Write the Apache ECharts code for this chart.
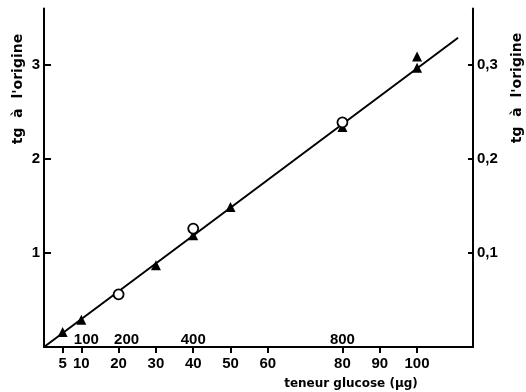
<!DOCTYPE html>
<html><head><meta charset="utf-8">
<script src="https://cdn.jsdelivr.net/npm/echarts@6/dist/echarts.min.js"></script>
<style>html,body{margin:0;padding:0;background:#fff}#c{width:526px;height:392px}</style>
</head><body><div id="c"></div>
<script>
// Data
const xTickValues = [5, 10, 20, 30, 40, 50, 60, 80, 90, 100];
const upperTickValues = [10, 20, 40, 80];
const upperTickLabels = ['100', '200', '400', '800'];
const triX = [5, 10, 30, 40, 50, 80, 100, 100];
const triY = [0.16, 0.29, 0.87, 1.19, 1.49, 2.34, 2.97, 3.09];
const circX = [20, 40, 80];
const circY = [0.56, 1.26, 2.39];
const fitX = [0, 111];
const fitY = [0, 3.29];
const leftTicks = [1, 2, 3];
const rightTicks = [0.1, 0.2, 0.3];
const yTitle = "tg  à  l'origine";
const xTitle = 'teneur glucose (µg)';

const upperShift = [5, 8, 0, 0];
const FONT = 'Liberation Sans';
const zip = (a, b) => a.map((v, i) => [v, b[i]]);

const chart = echarts.init(document.getElementById('c'));
chart.setOption({
  animation: false,
  backgroundColor: '#fff',
  grid: { left: 44, right: 53, top: 8.6, bottom: 45, containLabel: false },
  xAxis: {
    type: 'value', min: 0, max: 115,
    axisLine: { lineStyle: { color: '#000', width: 2 } },
    axisTick: { show: true, customValues: xTickValues, length: 6, inside: false, lineStyle: { color: '#000', width: 2 } },
    axisLabel: { customValues: xTickValues, color: '#000', fontFamily: FONT, fontSize: 15, fontWeight: 'bold', margin: 9 },
    splitLine: { show: false }
  },
  yAxis: [{
    type: 'value', min: 0, max: 3.6, position: 'left',
    axisLine: { show: true, lineStyle: { color: '#000', width: 2 } },
    axisTick: { show: true, customValues: leftTicks, inside: true, length: 7, lineStyle: { color: '#000', width: 2 } },
    axisLabel: { customValues: leftTicks, color: '#000', fontFamily: FONT, fontSize: 15, fontWeight: 'bold', margin: 4 },
    splitLine: { show: false }
  }, {
    type: 'value', min: 0, max: 0.36, position: 'right',
    axisLine: { show: true, lineStyle: { color: '#000', width: 2 } },
    axisTick: { show: true, customValues: rightTicks, inside: true, length: 5, lineStyle: { color: '#000', width: 2 } },
    axisLabel: { customValues: rightTicks, color: '#000', fontFamily: FONT, fontSize: 15, fontWeight: 'bold', margin: 4,
      formatter: v => v.toFixed(1).replace('.', ',') },
    splitLine: { show: false }
  }],
  series: [{
    type: 'line', data: zip(fitX, fitY), symbol: 'none',
    lineStyle: { color: '#000', width: 2 }, z: 2
  }, {
    type: 'scatter', data: zip(triX, triY), symbol: 'triangle', symbolSize: 10,
    itemStyle: { color: '#000', opacity: 1 }, z: 3
  }, {
    type: 'scatter', data: zip(circX, circY), symbol: 'circle', symbolSize: 10,
    itemStyle: { color: '#fff', borderColor: '#000', borderWidth: 1.8, opacity: 1 }, z: 3
  }, {
    type: 'scatter', symbolSize: 0, silent: true, z: 4,
    itemStyle: { opacity: 1 },
    data: upperTickValues.map((v, i) => ({
      value: [v, 0],
      label: { show: true, position: 'top', formatter: upperTickLabels[i], offset: [upperShift[i], 5],
        color: '#000', fontFamily: FONT, fontSize: 15, fontWeight: 'bold' }
    }))
  }],
  graphic: [{
    type: 'text', x: 18, y: 89, rotation: Math.PI / 2,
    style: { text: yTitle, fill: '#000', font: 'bold 14px "DejaVu Sans"', align: 'center', verticalAlign: 'middle' }
  }, {
    type: 'text', x: 517, y: 88, rotation: Math.PI / 2,
    style: { text: yTitle, fill: '#000', font: 'bold 14px "DejaVu Sans"', align: 'center', verticalAlign: 'middle' }
  }, {
    type: 'text', x: 351, y: 384,
    style: { text: xTitle, fill: '#000', font: 'bold 12px "DejaVu Sans"', align: 'center', verticalAlign: 'middle' }
  }]
});
</script></body></html>
